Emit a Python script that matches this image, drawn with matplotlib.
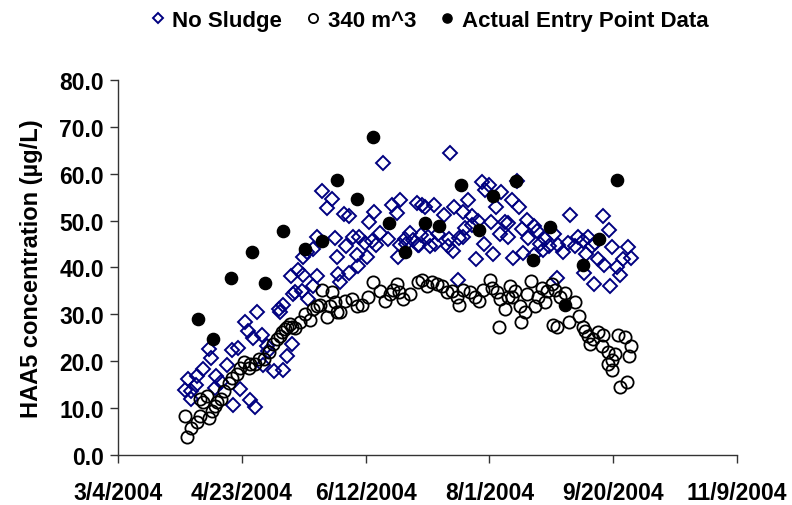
import matplotlib
matplotlib.use("Agg")
import matplotlib.pyplot as plt

plt.rcParams['font.family'] = ['Liberation Sans', 'DejaVu Sans']

# Days since 3/4/2004 and HAA5 concentrations (ug/L)
nosludge_day = [27.1, 28.1, 29.5, 29.5, 31.5, 31.9, 34.3, 36.8, 37.6, 39.2, 39.6, 41.6, 44.0,
                46.0, 46.5, 48.5, 49.3, 51.3, 52.5, 53.3, 54.5, 55.3, 56.1, 58.3, 58.7, 60.2,
                60.6, 63.0, 65.0, 65.4, 66.6, 66.6, 68.3, 69.9, 70.3, 70.7, 71.5, 72.7, 74.3,
                74.7, 74.7, 76.3, 76.7, 78.8, 78.8, 80.4, 80.4, 82.4, 84.4, 86.4, 87.6, 88.4,
                88.8, 89.7, 91.3, 92.1, 93.3, 93.3, 94.9, 96.5, 96.9, 97.3, 99.8, 100.6, 101.4,
                102.6, 103.4, 104.2, 105.8, 107.0, 109.0, 110.7, 112.7, 113.1, 113.9, 113.9,
                115.9, 116.3, 117.9, 119.1, 120.8, 121.2, 121.6, 122.4, 122.8, 124.0, 125.2,
                126.0, 127.6, 128.0, 129.2, 131.7, 133.3, 133.7, 134.1, 135.3, 135.7, 137.3,
                137.7, 139.3, 139.3, 140.2, 141.4, 143.0, 143.0, 144.6, 145.4, 147.0, 147.8,
                148.2, 149.8, 150.6, 151.5, 152.7, 154.3, 154.5, 156.3, 157.5, 157.5, 159.1,
                159.5, 161.0, 161.8, 163.2, 163.6, 165.2, 165.6, 168.0, 168.0, 169.2, 170.5,
                171.7, 172.5, 174.1, 176.1, 177.3, 177.7, 179.7, 181.7, 182.6, 184.6, 185.8,
                187.8, 188.2, 189.0, 189.8, 191.4, 192.2, 192.6, 193.9, 195.9, 196.3, 198.3,
                198.7, 199.5, 201.5, 202.7, 204.0, 206.0, 207.2]
nosludge_val = [13.8, 16.2, 13.6, 11.9, 14.9, 16.8, 18.3, 22.6, 20.6, 14.3, 16.8, 15.5, 19.1,
                22.3, 10.6, 22.8, 14.0, 28.3, 26.4, 11.7, 24.9, 10.2, 30.6, 25.7, 19.1, 23.2,
                22.1, 17.9, 31.1, 30.6, 32.1, 18.1, 21.1, 38.1, 23.6, 34.3, 34.7, 39.4, 34.9,
                42.3, 38.3, 43.2, 33.2, 36.0, 44.0, 46.4, 38.1, 56.4, 52.6, 54.7, 46.2, 42.3,
                38.7, 36.8, 51.5, 44.5, 50.9, 38.9, 46.4, 42.6, 40.4, 46.4, 45.3, 42.3, 49.6,
                45.7, 51.9, 44.9, 47.4, 62.3, 46.0, 53.4, 51.7, 42.3, 54.5, 44.9,
                46.0, 45.1, 47.4, 45.9, 53.8, 44.7, 44.7, 47.0, 53.4, 52.8, 46.6,
                44.5, 53.4, 45.1, 47.2, 51.3, 44.5, 46.0, 64.5, 43.6, 53.0, 37.4,
                46.2, 51.9, 46.6, 48.5, 54.5, 50.9, 49.1, 41.9, 50.0, 58.3, 45.1,
                56.6, 57.7, 49.8, 42.8, 53.0, 47.2, 56.0, 49.8, 49.4, 46.4, 54.5,
                42.1, 58.5, 53.0, 48.3, 43.0, 50.2, 46.2, 48.9, 42.6, 47.7, 45.1,
                43.8, 46.0, 44.5, 47.2, 37.7, 44.9, 43.2, 45.3, 51.3, 44.5, 46.6,
                45.7, 38.9, 42.8, 46.6, 44.5, 36.4, 45.3, 41.9, 50.9, 40.6, 48.1,
                36.0, 44.3, 40.2, 38.5, 41.9, 44.3, 42.1]

sludge340_day = [27.1, 27.9, 29.5, 31.9, 33.1, 33.1, 34.3, 35.9, 36.8, 38.0, 39.2, 40.0, 41.6,
                 42.8, 44.8, 46.0, 48.1, 49.3, 50.9, 52.9, 53.3, 55.3, 56.9, 59.0, 61.0, 62.6,
                 64.2, 65.4, 66.2, 67.4, 68.3, 69.5, 70.3, 71.5, 73.5, 75.5, 77.5, 78.8, 80.4,
                 81.6, 82.4, 84.4, 85.6, 86.4, 87.6, 88.4, 89.7, 91.7, 94.5, 96.5, 98.5, 101.0,
                 103.0, 105.8, 107.8, 109.9, 111.1, 112.7, 113.5, 115.1, 117.9, 121.2, 122.8,
                 124.8, 126.8, 128.8, 130.9, 132.9, 134.9, 136.9, 137.7, 139.3, 142.2, 144.2,
                 145.8, 147.4, 150.2, 151.1, 153.1, 153.9, 154.3, 156.3, 157.5, 158.3, 159.1,
                 160.3, 162.4, 162.8, 164.4, 165.2, 166.8, 168.4, 169.6, 171.2, 172.5, 173.3,
                 175.3, 175.7, 176.5, 177.3, 178.5, 180.5, 182.1, 184.6, 186.2, 187.8, 188.6,
                 189.8, 190.6, 191.8, 193.9, 195.5, 195.9, 197.9, 197.9, 199.5, 199.5, 200.7,
                 201.9, 202.7, 204.8, 205.6, 206.4, 207.2]
sludge340_val = [8.3, 3.8, 5.7, 7.0, 8.3, 11.9, 11.3, 12.6, 7.9, 9.4, 10.4, 11.3, 11.9,
                 13.6, 15.3, 16.4, 17.2, 18.5, 19.8, 18.5, 19.4, 19.4, 20.4, 20.4, 21.9, 23.6,
                 24.7, 25.3, 26.2, 26.8, 27.4, 27.9, 27.2, 27.0, 28.3, 30.0, 28.9, 31.1, 31.7,
                 32.1, 35.3, 29.4, 31.7, 34.7, 32.6, 30.4, 30.6, 32.8, 33.2, 31.7, 32.1, 33.8,
                 36.8, 34.9, 32.8, 34.3, 35.3, 36.4, 34.7, 33.2, 34.3, 36.8, 37.4,
                 36.0, 36.8, 36.4, 36.0, 34.7, 34.9, 33.8, 32.1, 35.3, 34.7, 33.6,
                 32.8, 35.3, 37.4, 35.7, 34.7, 27.4, 33.2, 31.1, 33.8, 36.0, 33.8,
                 34.9, 31.7, 28.3, 30.4, 34.3, 37.2, 31.7, 33.8, 35.7, 32.6, 34.9,
                 36.4, 27.7, 35.3, 27.2, 33.6, 34.5, 28.3, 32.6, 29.6, 27.4, 26.4,
                 25.3, 23.6, 24.7, 26.2, 23.2, 25.7, 21.9, 19.4, 20.2, 18.1, 21.5,
                 25.7, 14.5, 25.1, 15.5, 21.1, 23.2]

entry_day = [32.3, 38.4, 45.6, 54.0, 59.4, 66.6, 75.5, 82.2, 88.4, 96.5, 103.0, 109.5, 115.9,
             124.0, 129.6, 138.6, 145.8, 151.5, 160.9, 167.6, 174.5, 180.6, 187.8, 194.3, 201.5]
entry_val = [29.1, 24.7, 37.7, 43.4, 36.6, 47.7, 44.0, 45.7, 58.7, 54.7, 67.9, 49.4, 43.2,
             49.4, 48.9, 57.7, 48.1, 55.3, 58.5, 41.7, 48.7, 32.1, 40.6, 46.0, 58.7]

tick_days = [0, 50, 100, 150, 200, 250]
tick_labels = ['3/4/2004', '4/23/2004', '6/12/2004', '8/1/2004', '9/20/2004', '11/9/2004']
y_ticks = [0, 10, 20, 30, 40, 50, 60, 70, 80]

navy = '#000080'

fig = plt.figure(figsize=(7.92, 5.06), dpi=100)
ax = fig.add_axes([0.149, 0.0988, 0.7816, 0.7412])

ax.plot(nosludge_day, nosludge_val, linestyle='none', marker='D', markersize=7.0,
        markerfacecolor='none', markeredgecolor=navy, markeredgewidth=1.4, label='No Sludge')
ax.plot(sludge340_day, sludge340_val, linestyle='none', marker='o', markersize=8.8,
        markerfacecolor='none', markeredgecolor='black', markeredgewidth=1.3, label='340 m^3')
ax.plot(entry_day, entry_val, linestyle='none', marker='o', markersize=8.8,
        markerfacecolor='black', markeredgecolor='black', label='Actual Entry Point Data')

ax.set_xlim(tick_days[0], tick_days[-1])
ax.set_ylim(y_ticks[0], y_ticks[-1])
ax.set_xticks(tick_days)
ax.set_xticklabels(tick_labels)
ax.set_yticks(y_ticks)
ax.set_yticklabels([f'{v:.1f}' for v in y_ticks])

for s in ('top', 'right'):
    ax.spines[s].set_visible(False)
for s in ('left', 'bottom'):
    ax.spines[s].set_linewidth(1.0)
    ax.spines[s].set_color('#333333')

ax.tick_params(axis='both', direction='out', length=6, width=1.0, color='#333333',
               labelsize=16.5)
ax.tick_params(axis='x', pad=13)
ax.tick_params(axis='y', pad=4)
for lbl in ax.get_xticklabels() + ax.get_yticklabels():
    lbl.set_fontweight('bold')

ax.set_ylabel('HAA5 concentration (µg/L)', fontsize=17, fontweight='bold', labelpad=12)

leg = fig.legend(loc='upper center', bbox_to_anchor=(0.54, 1.018), ncol=3, frameon=False,
                 prop={'weight': 'bold', 'size': 16}, handletextpad=0.15,
                 columnspacing=0.9, handlelength=1.0, markerscale=0.75)

fig.savefig('out.png', dpi=100)
